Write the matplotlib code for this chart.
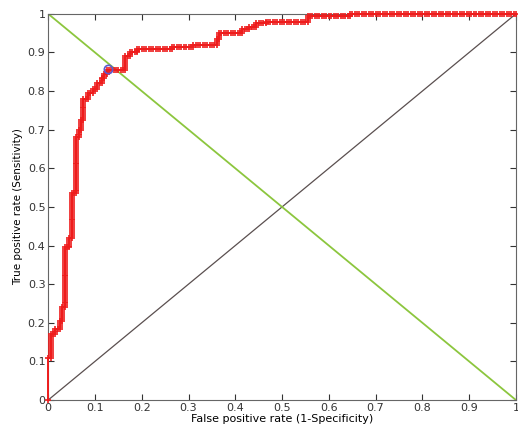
import numpy as np
import matplotlib
matplotlib.use("Agg")
import matplotlib.pyplot as plt

# ROC built from ranked samples: alternating runs of positives / negatives
n_pos = 200
n_neg = 200
pos_runs = [22, 12, 3, 4, 7, 31, 5, 23, 29, 4, 5, 11, 3, 2, 3, 3, 2, 2, 7, 2, 2,
            1, 1, 3, 3, 2, 1, 2, 1, 3, 1]
neg_runs = [1, 2, 2, 1, 1, 2, 1, 2, 1, 1, 1, 2, 2, 2, 2, 1, 1, 8, 2, 3, 15,
            9, 10, 1, 10, 3, 3, 4, 18, 18, 71]
opt_point = (0.128, 0.857)

labels = []
for p, n in zip(pos_runs, neg_runs):
    labels += [1] * p + [0] * n
labels = np.array(labels)
tpr = np.concatenate([[0], np.cumsum(labels) / n_pos])
fpr = np.concatenate([[0], np.cumsum(1 - labels) / n_neg])

fig = plt.figure(figsize=(5.18, 4.32), dpi=100)
ax = fig.add_axes([0.093, 0.074, 0.903, 0.894])

ax.plot([0, 1], [0, 1], color="#5a4f4f", lw=0.9)
ax.plot([0, 1], [1, 0], color="#8cc63e", lw=1.3)

marks = [0] + list(range(pos_runs[0], len(fpr)))
ax.plot(fpr, tpr, color="#ee1c1c", lw=1.4, marker="+", ms=4.5, mew=1.2,
        markevery=marks, zorder=3, clip_on=False)
ax.plot(*opt_point, "o", ms=6, mfc="none", mec="#5a5ad0", mew=1.2, zorder=4)

ax.set_xlim(0, 1)
ax.set_ylim(0, 1)
ticks = np.arange(0, 1.01, 0.1)
tick_labels = ["0"] + ["%.1f" % t for t in ticks[1:-1]] + ["1"]
ax.set_xticks(ticks)
ax.set_xticklabels(tick_labels)
ax.set_yticks(ticks)
ax.set_yticklabels(tick_labels)
ax.tick_params(direction="in", length=4, top=True, right=True,
               labelsize=8, colors="#333333", pad=2)
for s in ax.spines.values():
    s.set_color("#666666")
ax.set_xlabel("False positive rate (1-Specificity)", fontsize=8, labelpad=1)
ax.set_ylabel("True positive rate (Sensitivity)", fontsize=7.5, labelpad=3)

fig.savefig("out.png", dpi=100)
